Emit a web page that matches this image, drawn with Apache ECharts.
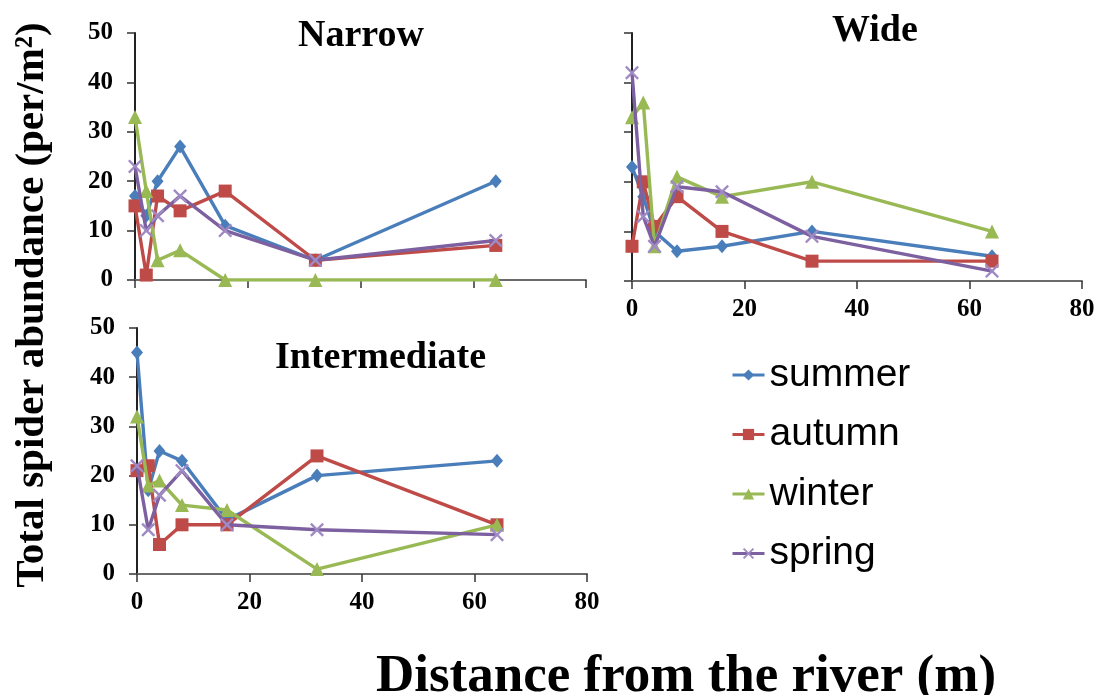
<!DOCTYPE html>
<html>
<head>
<meta charset="utf-8">
<script src="https://cdn.jsdelivr.net/npm/echarts@6/dist/echarts.min.js"></script>
<style>
html,body{margin:0;padding:0;background:#fff;}
#c{width:1098px;height:695px;}
</style>
</head>
<body>
<div id="c"></div>
<script>
// ---- data ----
var distances = [0, 2, 4, 8, 16, 32, 64];
var seasons = ['summer', 'autumn', 'winter', 'spring'];
var panels = ['Narrow', 'Wide', 'Intermediate'];

var narrowSummer = [17, 13, 20, 27, 11, 4, 20];
var narrowAutumn = [15, 1, 17, 14, 18, 4, 7];
var narrowWinter = [33, 18, 4, 6, 0, 0, 0];
var narrowSpring = [23, 10, 13, 17, 10, 4, 8];

var wideSummer = [23, 17, 10, 6, 7, 10, 5];
var wideAutumn = [7, 20, 11, 17, 10, 4, 4];
var wideWinter = [33, 36, 7, 21, 17, 20, 10];
var wideSpring = [42, 13, 7, 19, 18, 9, 2];

var interSummer = [45, 17, 25, 23, 11, 20, 23];
var interAutumn = [21, 22, 6, 10, 10, 24, 10];
var interWinter = [32, 18, 19, 14, 13, 1, 10];
var interSpring = [22, 9, 16, 21, 10, 9, 8];

var yTicks = [0, 10, 20, 30, 40, 50];
var xTicks = [0, 20, 40, 60, 80];

var yTitle = 'Total spider abundance (per/m\u00B2)';
var xTitle = 'Distance from the river (m)';

// ---- styling ----
var lineColors = ['#4A7EBB', '#BE4B48', '#98B954', '#7D60A0'];
var markerColors = ['#4A7EBB', '#BE4B48', '#98B954', '#9F8AC4'];
var xSymbol = 'path://M0,1.2 L1.2,0 L5,3.8 L8.8,0 L10,1.2 L6.2,5 L10,8.8 L8.8,10 L5,6.2 L1.2,10 L0,8.8 L3.8,5 Z';
var symbols = ['diamond', 'rect', 'triangle', xSymbol];
var symbolSizes = [[12, 14], 13, 14, 14];

var panelData = [
  [narrowSummer, narrowAutumn, narrowWinter, narrowSpring],
  [wideSummer, wideAutumn, wideWinter, wideSpring],
  [interSummer, interAutumn, interWinter, interSpring]
];

var grids = [
  {left: 135, top: 33, width: 451, height: 247},
  {left: 632, top: 33, width: 450, height: 248},
  {left: 137, top: 328, width: 450, height: 246}
];
var showY = [true, false, true];
var showX = [false, true, true];
var serif = '"Liberation Serif", "Times New Roman", serif';

var xAxes = [], yAxes = [], series = [];
for (var g = 0; g < 3; g++) {
  xAxes.push({
    type: 'value', gridIndex: g, min: 0, max: 80, interval: 20,
    axisLine: {show: true, onZero: false, lineStyle: {color: '#6b6b6b', width: 2}},
    axisTick: {show: true, inside: false, length: 8, lineStyle: {color: '#333', width: 1.5}},
    axisLabel: {show: showX[g], margin: 16, fontFamily: serif, fontWeight: 'bold', fontSize: 25, color: '#000'},
    splitLine: {show: false}
  });
  yAxes.push({
    type: 'value', gridIndex: g, min: 0, max: 50, interval: 10,
    axisLine: {show: true, onZero: false, lineStyle: {color: '#222', width: 2}},
    axisTick: {show: true, inside: false, length: 8, lineStyle: {color: '#333', width: 1.5}},
    axisLabel: {show: showY[g], margin: 22, fontFamily: serif, fontWeight: 'bold', fontSize: 25, color: '#000'},
    splitLine: {show: false}
  });
  for (var s = 0; s < 4; s++) {
    var vals = panelData[g][s];
    series.push({
      name: seasons[s], type: 'line', xAxisIndex: g, yAxisIndex: g,
      data: distances.map(function (d, i) { return [d, vals[i]]; }),
      symbol: symbols[s], symbolSize: symbolSizes[s], showSymbol: true,
      lineStyle: {color: lineColors[s], width: 3.4},
      itemStyle: {color: markerColors[s]},
      z: 2 + s,
      animation: false
    });
  }
}

var option = {
  backgroundColor: '#fff',
  animation: false,
  title: [
    {text: panels[0], left: 293, top: 12, textStyle: {fontFamily: serif, fontWeight: 'bold', fontSize: 38, color: '#000'}},
    {text: panels[1], left: 827, top: 7, textStyle: {fontFamily: serif, fontWeight: 'bold', fontSize: 38, color: '#000'}},
    {text: panels[2], left: 270, top: 334, textStyle: {fontFamily: serif, fontWeight: 'bold', fontSize: 38, color: '#000'}}
  ],
  legend: {
    data: seasons, orient: 'vertical', left: 731, top: 355, padding: 0,
    itemWidth: 32, itemHeight: 14, itemGap: 19.5,
    lineStyle: {width: 3},
    textStyle: {fontFamily: '"Liberation Sans", Arial, sans-serif', fontSize: 39, lineHeight: 40, color: '#000'},
    selectedMode: false
  },
  grid: grids,
  xAxis: xAxes,
  yAxis: yAxes,
  series: series,
  graphic: [
    {type: 'text', x: 32, y: 305, rotation: Math.PI / 2,
     style: {text: yTitle, fontFamily: serif, fontWeight: 'bold', fontSize: 41, fill: '#000', textAlign: 'center', textVerticalAlign: 'middle'}},
    {type: 'text', x: 686, y: 677,
     style: {text: xTitle, fontFamily: serif, fontWeight: 'bold', fontSize: 53, fill: '#000', textAlign: 'center', textVerticalAlign: 'middle'}}
  ]
};

var chart = echarts.init(document.getElementById('c'), null, {renderer: 'canvas'});
chart.setOption(option);
</script>
</body>
</html>
